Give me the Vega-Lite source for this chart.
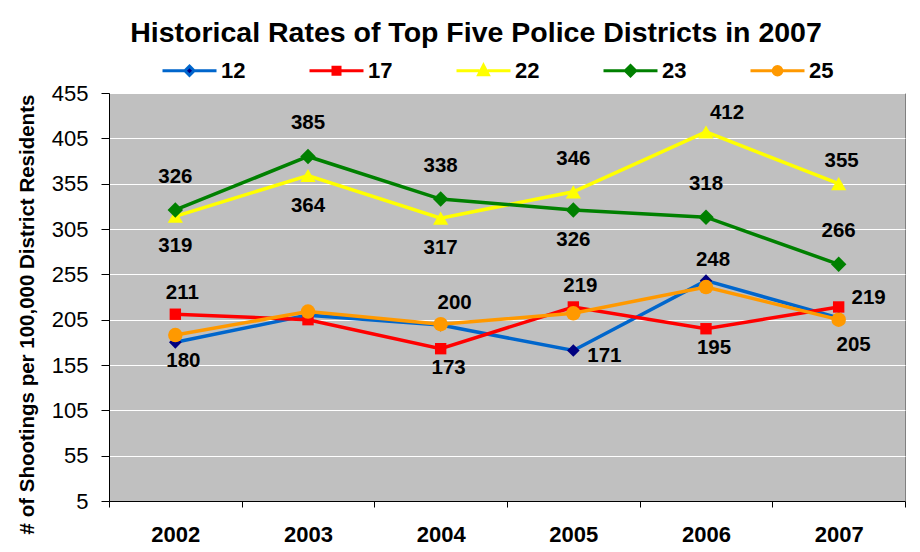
{
  "$schema": "https://vega.github.io/schema/vega-lite/v6.json",
  "width": 796,
  "height": 408,
  "autosize": {"type": "none"},
  "padding": {"left": 109, "top": 93, "right": 15, "bottom": 51},
  "background": "white",
  "title": {
    "text": "Historical Rates of Top Five Police Districts in 2007",
    "font": "Liberation Sans",
    "fontSize": 28.5,
    "fontWeight": "bold",
    "color": "black",
    "anchor": "middle",
    "dx": -31,
    "offset": -5
  },
  "config": {
    "view": {"fill": "#C0C0C0", "stroke": "#808080", "strokeWidth": 1},
    "axis": {"labelFont": "Liberation Sans", "titleFont": "Liberation Sans", "labelColor": "black", "titleColor": "black", "domainColor": "black", "tickColor": "black"},
    "text": {"font": "Liberation Sans"}
  },
  "data": {
    "values": [
      {"year": "2002", "district": "12", "rate": 180},
      {"year": "2003", "district": "12", "rate": 210},
      {"year": "2004", "district": "12", "rate": 199},
      {"year": "2005", "district": "12", "rate": 171},
      {"year": "2006", "district": "12", "rate": 248},
      {"year": "2007", "district": "12", "rate": 207},
      {"year": "2002", "district": "17", "rate": 211},
      {"year": "2003", "district": "17", "rate": 205},
      {"year": "2004", "district": "17", "rate": 173},
      {"year": "2005", "district": "17", "rate": 219},
      {"year": "2006", "district": "17", "rate": 195},
      {"year": "2007", "district": "17", "rate": 219},
      {"year": "2002", "district": "22", "rate": 319},
      {"year": "2003", "district": "22", "rate": 364},
      {"year": "2004", "district": "22", "rate": 317},
      {"year": "2005", "district": "22", "rate": 346},
      {"year": "2006", "district": "22", "rate": 412},
      {"year": "2007", "district": "22", "rate": 355},
      {"year": "2002", "district": "23", "rate": 326},
      {"year": "2003", "district": "23", "rate": 385},
      {"year": "2004", "district": "23", "rate": 338},
      {"year": "2005", "district": "23", "rate": 326},
      {"year": "2006", "district": "23", "rate": 318},
      {"year": "2007", "district": "23", "rate": 266},
      {"year": "2002", "district": "25", "rate": 188},
      {"year": "2003", "district": "25", "rate": 214},
      {"year": "2004", "district": "25", "rate": 200},
      {"year": "2005", "district": "25", "rate": 212},
      {"year": "2006", "district": "25", "rate": 241},
      {"year": "2007", "district": "25", "rate": 205}
    ]
  },
  "encoding": {
    "x": {
      "field": "year", "type": "ordinal",
      "scale": {"paddingInner": 0, "paddingOuter": 0},
      "axis": {"title": null, "labelAngle": 0, "tickBand": "extent", "tickSize": 6, "labelFontSize": 22, "labelFontWeight": "bold", "labelPadding": 17, "grid": false, "domainWidth": 1}
    },
    "y": {
      "field": "rate", "type": "quantitative",
      "scale": {"domain": [5, 455], "nice": false, "zero": false},
      "axis": {
        "title": "# of Shootings per 100,000 District Residents",
        "values": [5, 55, 105, 155, 205, 255, 305, 355, 405, 455],
        "grid": true, "gridColor": "white", "gridWidth": 1,
        "tickSize": 8, "labelFontSize": 22, "labelPadding": 13,
        "titleFontSize": 20.5, "titleFontWeight": "bold", "titleAngle": -90,
        "titleX": -76, "titleY": 221, "titleAlign": "center", "titleBaseline": "alphabetic"
      }
    }
  },
  "layer": [
    {
      "mark": {"type": "line", "strokeWidth": 3.5},
      "encoding": {
        "stroke": {
          "field": "district", "type": "nominal",
          "scale": {"domain": ["12", "17", "22", "23", "25"], "range": ["#0066CC", "#FF0000", "#FFFF00", "#008000", "#FF9900"]},
          "legend": {
            "orient": "none", "legendX": 52, "legendY": -51, "direction": "horizontal", "columns": 5, "title": null,
            "symbolSize": 2916, "symbolStrokeWidth": 3, "labelFontSize": 22, "labelFont": "Liberation Sans", "labelFontWeight": "bold", "labelColor": "black", "labelOffset": 3, "columnPadding": 57,
            "encoding": {
              "symbols": {
                "shape": {"value": {"expr": "datum.value === '12' ? 'M-1,0H-0.17M0.17,0H1M0,-0.17L0.17,0L0,0.17L-0.17,0Z' : datum.value === '17' ? 'M-1,0H-0.13M0.13,0H1M-0.13,-0.13H0.13V0.13H-0.13Z' : datum.value === '22' ? 'M-1,0H-0.15M0.15,0H1M0,-0.2L0.18,0.15H-0.18Z' : datum.value === '23' ? 'M-1,0H-0.19M0.19,0H1M0,-0.19L0.19,0L0,0.19L-0.19,0Z' : 'M-1,0H-0.16M0.16,0H1M-0.16,0A0.16,0.16,0,1,0,0.16,0A0.16,0.16,0,1,0,-0.16,0Z'"}},
                "fill": {"value": {"expr": "datum.value === '12' ? '#000080' : datum.value === '17' ? '#FF0000' : datum.value === '22' ? '#FFFF00' : datum.value === '23' ? '#008000' : '#FF9900'"}},
                "fillOpacity": {"value": 1},
                "strokeWidth": {"value": 3}
              }
            }
          }
        }
      }
    },
    {
      "transform": [{"filter": "datum.district === '12'"}],
      "mark": {"type": "point", "filled": true, "opacity": 1, "strokeWidth": 0, "shape": "diamond", "color": "#000080", "size": 160}
    },
    {
      "transform": [{"filter": "datum.district === '17'"}],
      "mark": {"type": "point", "filled": true, "opacity": 1, "strokeWidth": 0, "shape": "square", "color": "#FF0000", "size": 130}
    },
    {
      "transform": [{"filter": "datum.district === '22'"}],
      "mark": {"type": "point", "filled": true, "opacity": 1, "strokeWidth": 0, "shape": "triangle-up", "color": "#FFFF00", "size": 230}
    },
    {
      "transform": [{"filter": "datum.district === '23'"}],
      "mark": {"type": "point", "filled": true, "opacity": 1, "strokeWidth": 0, "shape": "diamond", "color": "#008000", "size": 240}
    },
    {
      "transform": [{"filter": "datum.district === '25'"}],
      "mark": {"type": "point", "filled": true, "opacity": 1, "strokeWidth": 0, "shape": "circle", "color": "#FF9900", "size": 210}
    },
    {
      "transform": [{"filter": "(datum.district === '23' && datum.year !== '2005') || (datum.district === '22' && datum.year === '2005')"}],
      "mark": {"type": "text", "fontSize": 20.5, "fontWeight": "bold", "color": "black", "dy": -33},
      "encoding": {"text": {"field": "rate", "type": "quantitative", "format": "d"}}
    },
    {
      "transform": [{"filter": "(datum.district === '22' && (datum.year === '2002' || datum.year === '2003' || datum.year === '2004')) || (datum.district === '23' && datum.year === '2005')"}],
      "mark": {"type": "text", "fontSize": 20.5, "fontWeight": "bold", "color": "black", "dy": 30},
      "encoding": {"text": {"field": "rate", "type": "quantitative", "format": "d"}}
    },
    {
      "transform": [{"filter": "datum.district === '22' && datum.year === '2006'"}],
      "mark": {"type": "text", "fontSize": 20.5, "fontWeight": "bold", "color": "black", "dx": 21, "dy": -19},
      "encoding": {"text": {"field": "rate", "type": "quantitative", "format": "d"}}
    },
    {
      "transform": [{"filter": "datum.district === '22' && datum.year === '2007'"}],
      "mark": {"type": "text", "fontSize": 20.5, "fontWeight": "bold", "color": "black", "dx": 3, "dy": -23},
      "encoding": {"text": {"field": "rate", "type": "quantitative", "format": "d"}}
    },
    {
      "transform": [{"filter": "(datum.district === '17' && (datum.year === '2002' || datum.year === '2005')) || (datum.district === '12' && datum.year === '2006')"}],
      "mark": {"type": "text", "fontSize": 20.5, "fontWeight": "bold", "color": "black", "dx": 7, "dy": -21},
      "encoding": {"text": {"field": "rate", "type": "quantitative", "format": "d"}}
    },
    {
      "transform": [{"filter": "datum.district === '25' && datum.year === '2004'"}],
      "mark": {"type": "text", "fontSize": 20.5, "fontWeight": "bold", "color": "black", "dx": 14, "dy": -21},
      "encoding": {"text": {"field": "rate", "type": "quantitative", "format": "d"}}
    },
    {
      "transform": [{"filter": "(datum.district === '17' && (datum.year === '2004' || datum.year === '2006')) || (datum.district === '12' && datum.year === '2002')"}],
      "mark": {"type": "text", "fontSize": 20.5, "fontWeight": "bold", "color": "black", "dx": 8, "dy": 19},
      "encoding": {"text": {"field": "rate", "type": "quantitative", "format": "d"}}
    },
    {
      "transform": [{"filter": "datum.district === '25' && datum.year === '2007'"}],
      "mark": {"type": "text", "fontSize": 20.5, "fontWeight": "bold", "color": "black", "dx": 15, "dy": 25},
      "encoding": {"text": {"field": "rate", "type": "quantitative", "format": "d"}}
    },
    {
      "transform": [{"filter": "datum.district === '17' && datum.year === '2007'"}],
      "mark": {"type": "text", "fontSize": 20.5, "fontWeight": "bold", "color": "black", "dx": 30, "dy": -9},
      "encoding": {"text": {"field": "rate", "type": "quantitative", "format": "d"}}
    },
    {
      "transform": [{"filter": "datum.district === '12' && datum.year === '2005'"}],
      "mark": {"type": "text", "fontSize": 20.5, "fontWeight": "bold", "color": "black", "dx": 31, "dy": 6},
      "encoding": {"text": {"field": "rate", "type": "quantitative", "format": "d"}}
    }
  ]
}
